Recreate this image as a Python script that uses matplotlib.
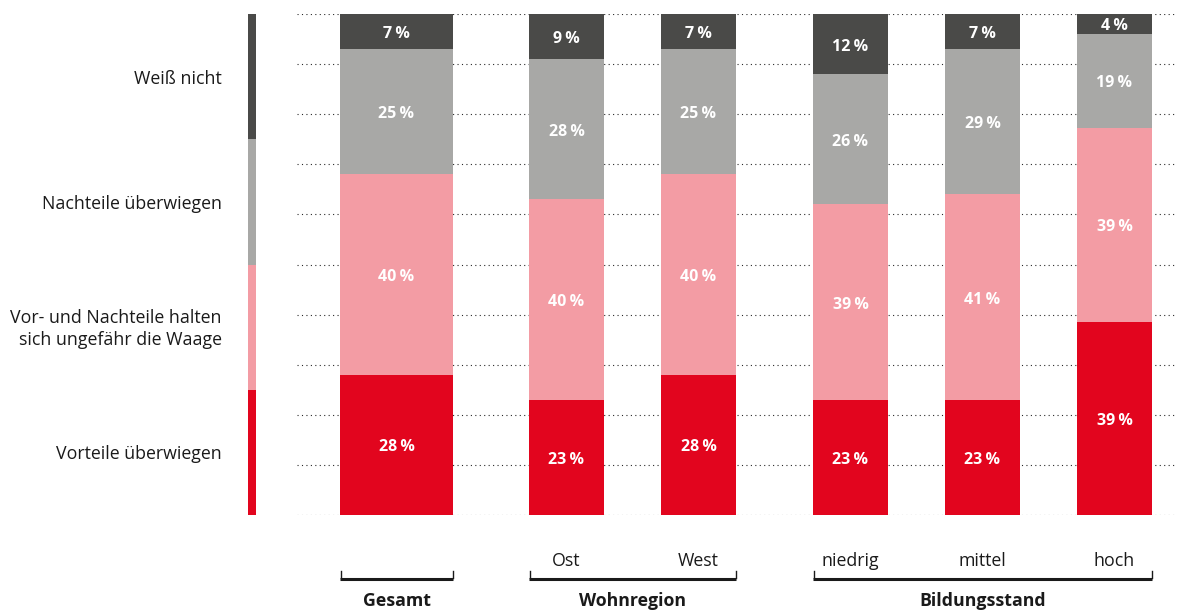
import matplotlib
matplotlib.use("Agg")
import matplotlib.pyplot as plt
import numpy as np

# ---- data ----
categories = ["Gesamt", "Ost", "West", "niedrig", "mittel", "hoch"]
series_names = ["Vorteile überwiegen",
                "Vor- und Nachteile halten\nsich ungefähr die Waage",
                "Nachteile überwiegen",
                "Weiß nicht"]
vorteile = [28, 23, 28, 23, 23, 39]
gleich = [40, 40, 40, 39, 41, 39]
nachteile = [25, 28, 25, 26, 29, 19]
weiss_nicht = [7, 9, 7, 12, 7, 4]
groups = ["Gesamt", "Wohnregion", "Bildungsstand"]
group_members = [[0], [1, 2], [3, 4, 5]]

colors = ["#e2051e", "#f39ca4", "#a8a8a6", "#4a4a48"]
FONT = ["Open Sans", "DejaVu Sans"]
plt.rcParams["font.family"] = FONT

W, H = 1194, 613
fig = plt.figure(figsize=(W / 100, H / 100), dpi=100)

# main axes: y 0..100 mapped to pixel rows 515..14, x in pixel units
top_px, bot_px = 14, 515
ax = fig.add_axes([0, (H - bot_px) / H, 1, (bot_px - top_px) / H])
ax.set_xlim(0, W)
ax.set_ylim(0, 100)
ax.axis("off")

# layout
x_centers = [396.5, 566.5, 698.5, 850.5, 982.5, 1114.5]
widths = [113, 75, 75, 75, 75, 75]

# grid
for g in range(0, 101, 10):
    ax.plot([297, 1177], [g, g], color="#2a2a2a", lw=0.8,
            linestyle=(0, (1, 3)), zorder=0)

series = [vorteile, gleich, nachteile, weiss_nicht]
data = np.array(series, dtype=float)
totals = data.sum(axis=0)
scaled = data / totals * 100
bottoms = np.zeros(len(categories))
for s in range(len(series)):
    ax.bar(x_centers, scaled[s], width=widths, bottom=bottoms,
           color=colors[s], zorder=2, linewidth=0)
    for i, v in enumerate(series[s]):
        ax.text(x_centers[i], bottoms[i] + scaled[s][i] / 2 - 0.5,
                f"{v}\u2009%", ha="center", va="center", color="white",
                fontsize=11.5, fontweight="bold", zorder=3)
    bottoms += scaled[s]

# legend bar
for s in range(len(series_names)):
    ax.bar(252, 25, width=8, bottom=s * 25, color=colors[s], linewidth=0)
    ax.text(222, s * 25 + 12.5 - 0.4, series_names[s], ha="right",
            va="center", fontsize=12.8, color="#1a1a1a", linespacing=1.3)

# overlay axes for brackets / labels in pixel coordinates
ax2 = fig.add_axes([0, 0, 1, 1])
ax2.set_xlim(0, W)
ax2.set_ylim(H, 0)
ax2.axis("off")
for gname, members in zip(groups, group_members):
    x0 = x_centers[members[0]] - widths[members[0]] / 2
    x1 = x_centers[members[-1]] + widths[members[-1]] / 2
    ax2.plot([x0, x1], [578.5, 578.5], color="#1a1a1a", lw=2.2,
             solid_capstyle="butt")
    ax2.plot([x0 + 0.5, x0 + 0.5], [571, 578], color="#1a1a1a", lw=1)
    ax2.plot([x1 - 0.5, x1 - 0.5], [571, 578], color="#1a1a1a", lw=1)
    ax2.text((x0 + x1) / 2, 601, gname, ha="center", va="center",
             fontsize=12.8, fontweight="bold", color="#1a1a1a")
    if len(members) > 1:
        for m in members:
            ax2.text(x_centers[m], 561, categories[m], ha="center",
                     va="center", fontsize=12.8, color="#1a1a1a")

fig.savefig("out.png", dpi=100)
